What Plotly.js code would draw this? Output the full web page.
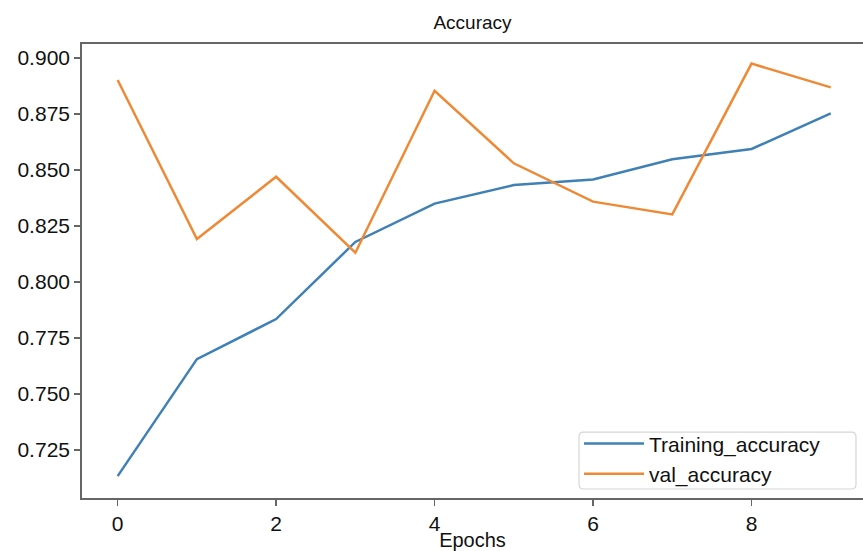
<!DOCTYPE html>
<html>
<head>
<meta charset="utf-8">
<script src="https://cdn.plot.ly/plotly-3.0.1.min.js"></script>
<style>
html, body { margin: 0; padding: 0; overflow: hidden; background: #fff; }
#chart { width: 863px; height: 551px; }
</style>
</head>
<body>
<div id="chart"></div>
<script>
const epochs = [0, 1, 2, 3, 4, 5, 6, 7, 8, 9];
const trainingAccuracy = [0.7134, 0.7656, 0.7835, 0.8179, 0.8350, 0.8433, 0.8458, 0.8548, 0.8594, 0.8753];
const valAccuracy = [0.8902, 0.8192, 0.8470, 0.8131, 0.8854, 0.8530, 0.8359, 0.8302, 0.8975, 0.8869];
const xTicks = [0, 2, 4, 6, 8];
const yTicks = [0.725, 0.750, 0.775, 0.800, 0.825, 0.850, 0.875, 0.900];

const font = "Liberation Sans, Arial, Helvetica, sans-serif";

const traces = [
  {
    x: epochs, y: trainingAccuracy, type: "scatter", mode: "lines",
    name: "Training_accuracy",
    line: { color: "#3f80b5", width: 2.5 }
  },
  {
    x: epochs, y: valAccuracy, type: "scatter", mode: "lines",
    name: "val_accuracy",
    line: { color: "#ee8a36", width: 2.5 }
  }
];

const axisCommon = {
  showline: true, linecolor: "#666", linewidth: 1.8,
  ticks: "outside", ticklen: 6, tickwidth: 1.6, tickcolor: "#666",
  showgrid: false, zeroline: false,
  tickfont: { family: font, size: 21, color: "#111" }
};

// rounded legend frame (paper coordinates)
const bx0 = 0.6364, bx1 = 0.991, by0 = 0.0198, by1 = 0.145, rx = 0.006, ry = 0.01;
const framePath =
  `M ${bx0 + rx} ${by0} L ${bx1 - rx} ${by0} Q ${bx1} ${by0} ${bx1} ${by0 + ry} ` +
  `L ${bx1} ${by1 - ry} Q ${bx1} ${by1} ${bx1 - rx} ${by1} ` +
  `L ${bx0 + rx} ${by1} Q ${bx0} ${by1} ${bx0} ${by1 - ry} ` +
  `L ${bx0} ${by0 + ry} Q ${bx0} ${by0} ${bx0 + rx} ${by0} Z`;

const layout = {
  width: 863, height: 551,
  margin: { l: 82, r: 0, t: 44, b: 53 },
  paper_bgcolor: "#fff", plot_bgcolor: "#fff",
  title: {
    text: "Accuracy",
    font: { family: font, size: 19, color: "#111" },
    x: 0.5, xref: "paper", xanchor: "center",
    y: 0.96, yref: "container", yanchor: "middle"
  },
  xaxis: Object.assign({}, axisCommon, {
    mirror: true,
    range: [-0.45, 9.407],
    tickmode: "array", tickvals: xTicks, ticktext: xTicks.map(String),
    title: { text: "Epochs", font: { family: font, size: 20, color: "#111" }, standoff: 4 }
  }),
  yaxis: Object.assign({}, axisCommon, {
    mirror: false,
    range: [0.70363, 0.90625],
    tickmode: "array", tickvals: yTicks, ticktext: yTicks.map(v => v.toFixed(3))
  }),
  shapes: [
    { type: "path", xref: "paper", yref: "paper", path: framePath,
      fillcolor: "rgba(255,255,255,0.85)", line: { color: "#d6d6d6", width: 1.2 }, layer: "above" }
  ],
  showlegend: true,
  legend: {
    x: 0.6364, xanchor: "left", y: 0.008, yanchor: "bottom",
    bgcolor: "rgba(0,0,0,0)", borderwidth: 0,
    itemwidth: 60,
    font: { family: font, size: 21, color: "#111" }
  }
};

Plotly.newPlot("chart", traces, layout, { staticPlot: true, displayModeBar: false });
</script>
</body>
</html>
